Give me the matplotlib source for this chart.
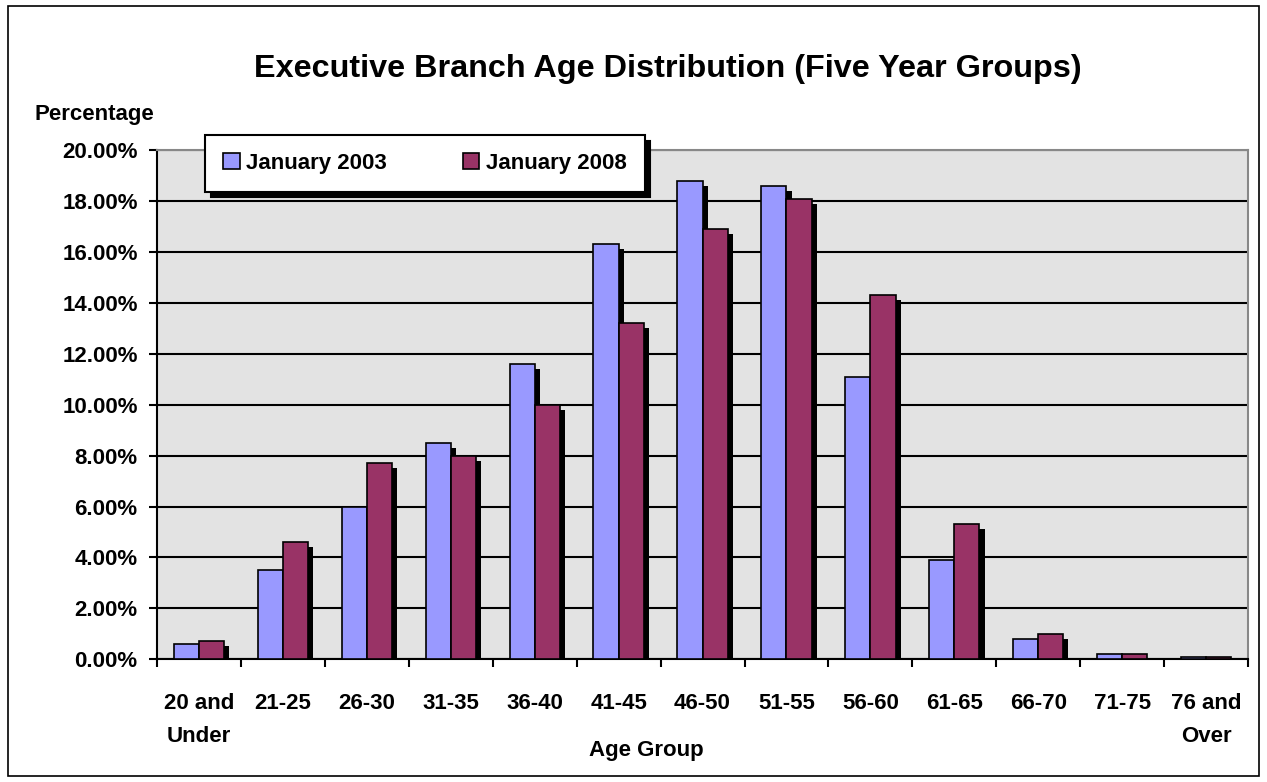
import numpy as np
import matplotlib
matplotlib.use("Agg")
import matplotlib.pyplot as plt
from matplotlib.patches import Rectangle, Patch

plt.rcParams['font.family'] = ['Liberation Sans', 'DejaVu Sans']
plt.rcParams['font.weight'] = 'bold'

groups = ["20 and\nUnder", "21-25", "26-30", "31-35", "36-40", "41-45", "46-50",
          "51-55", "56-60", "61-65", "66-70", "71-75", "76 and\nOver"]
jan_2003 = [0.6, 3.5, 6.0, 8.5, 11.6, 16.3, 18.8, 18.6, 11.1, 3.9, 0.8, 0.2, 0.07]
jan_2008 = [0.7, 4.6, 7.7, 8.0, 10.0, 13.2, 16.9, 18.1, 14.3, 5.3, 1.0, 0.2, 0.07]
series_names = ["January 2003", "January 2008"]
colors = ["#9999FF", "#993366"]
fs = 16

fig = plt.figure(figsize=(12.67, 7.82), dpi=100)
fig.patches.append(Rectangle((0.006, 0.008), 0.988, 0.984, transform=fig.transFigure,
                             fill=False, edgecolor="black", lw=1.2, zorder=0))
ax = fig.add_axes([0.124, 0.157, 0.861, 0.651])
ax.set_facecolor("#e3e3e3")

x = np.arange(len(groups))
w = 0.3
dx = 0.06   # shadow offset in x (data units)
dy = 0.2    # shadow offset in y

for i, vals in enumerate([jan_2003, jan_2008]):
    pos = x + (i - 0.5) * w
    sh = [max(v - dy, 0) for v in vals]
    ax.bar(pos + dx, sh, width=w, color="black", zorder=2, linewidth=0)
for i, vals in enumerate([jan_2003, jan_2008]):
    pos = x + (i - 0.5) * w
    ax.bar(pos, vals, width=w, color=colors[i], edgecolor="black", lw=1.2, zorder=3)

ax.set_xlim(-0.5, len(groups) - 0.5)
ax.set_ylim(0, 20)
ax.set_yticks(np.arange(0, 21, 2))
ax.set_yticklabels([f"{v:.2f}%" for v in np.arange(0, 21, 2)], fontsize=fs, fontweight="bold")
ax.yaxis.grid(True, color="black", lw=1.5, zorder=1)
ax.set_axisbelow(True)

ax.set_xticks(np.arange(-0.5, len(groups), 1))
ax.set_xticklabels([])
ax.set_xticks(x, minor=True)
ax.set_xticklabels(groups, minor=True, fontsize=fs, fontweight="bold", linespacing=1.75)
ax.tick_params(axis="x", which="major", length=6, width=1.5, direction="out")
ax.tick_params(axis="x", which="minor", length=0, pad=24)
ax.tick_params(axis="y", length=6, width=1.5, pad=8)

ax.spines["left"].set_linewidth(1.5)
ax.spines["bottom"].set_linewidth(1.5)
ax.spines["top"].set_color("#888888")
ax.spines["right"].set_color("#888888")
ax.spines["top"].set_linewidth(1.5)
ax.spines["right"].set_linewidth(1.5)

fig.text(0.527, 0.912, "Executive Branch Age Distribution (Five Year Groups)",
         ha="center", va="center", fontsize=23.3, fontweight="bold")
fig.text(0.027, 0.853, "Percentage", ha="left", va="center", fontsize=fs, fontweight="bold")
fig.text(0.51, 0.04, "Age Group", ha="center", va="center", fontsize=fs, fontweight="bold")

handles = [Patch(facecolor=c, edgecolor="black", lw=1.2) for c in colors]
leg = fig.legend(handles, series_names, loc="upper left", bbox_to_anchor=(0.162, 0.827),
                 ncol=2, fontsize=fs, frameon=True, fancybox=False, columnspacing=3.4,
                 handlelength=0.75, handleheight=0.75, handletextpad=0.3, borderpad=0.8,
                 borderaxespad=0, shadow={"ox": 4, "oy": -4, "color": "black", "alpha": 1})
leg.get_frame().set_edgecolor("black")
leg.get_frame().set_linewidth(1.5)
for t in leg.get_texts():
    t.set_fontweight("bold")

fig.savefig("out.png", dpi=100)
